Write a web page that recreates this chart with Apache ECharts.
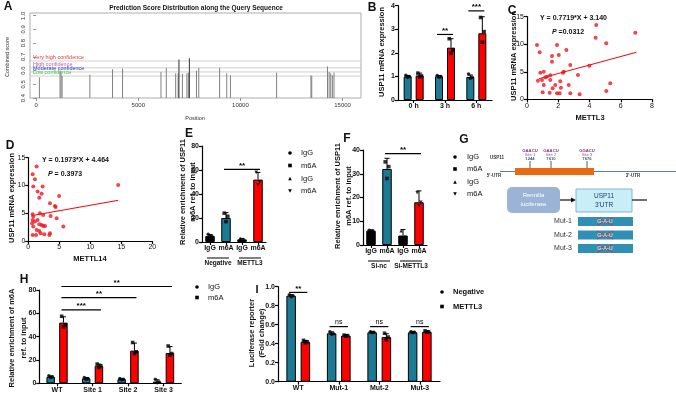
<!DOCTYPE html>
<html>
<head>
<meta charset="utf-8">
<script src="https://cdn.jsdelivr.net/npm/echarts@6/dist/echarts.min.js"></script>
<style>
  html, body { margin: 0; padding: 0; background: #fff; }
  #chart { width: 676px; height: 398px; }
</style>
</head>
<body>
<div id="chart"></div>
<script>
// ---- A: prediction score spikes ----
const aPos = [160, 1170, 1220, 1270, 2630, 3740, 4230, 6110, 6370, 6830, 6950, 6990, 7160, 7380, 7450, 7500, 7850, 7960, 8980, 9330, 9510, 11770, 13450, 13490, 14260, 14340, 14420, 14500, 14580];
const aScore = [0.55, 0.6, 0.58, 0.56, 0.57, 0.61, 0.615, 0.59, 0.62, 0.58, 0.58, 0.68, 0.575, 0.58, 0.585, 0.69, 0.6, 0.62, 0.62, 0.58, 0.565, 0.585, 0.565, 0.56, 0.63, 0.59, 0.58, 0.565, 0.585];
const aThresh = [0.67, 0.62, 0.59, 0.56];
const aThreshNames = ['Very high confidence', 'High confidence', 'Moderate confidence', 'Low confidence'];
const aXTicks = [0, 5000, 10000, 15000];
const aYTicks = [0.4, 0.5, 0.6, 0.7, 0.8, 0.9, 1.0];

// ---- B: USP11 mRNA time course ----
const bCats = ['0 h', '3 h', '6 h'];
const bCtrlMean = [1.0, 1.0, 0.98];
const bCtrlSd = [0.04, 0.04, 0.08];
const bCtrlPts = [[1.05, 1.0, 0.96], [1.04, 0.99, 0.97], [1.1, 0.96, 0.92]];
const bTrtMean = [1.04, 2.22, 2.83];
const bTrtSd = [0.1, 0.38, 0.7];
const bTrtPts = [[1.14, 1.02, 0.98], [2.6, 2.12, 1.98], [3.5, 2.9, 2.45]];
const bSig = [[1, 0, 1, 1, 2.78, '**'], [2, 0, 2, 1, 3.78, '***']];

// ---- C / D: correlations ----
const cX = [0.64, 0.81, 0.85, 0.7, 0.96, 1.07, 1.17, 1.07, 1.0, 1.28, 1.49, 1.45, 1.6, 1.6, 1.49, 1.64, 1.81, 1.92, 2.03, 1.92, 2.09, 2.13, 2.17, 2.3, 2.35, 2.52, 2.67, 2.77, 2.77, 3.26, 3.37, 3.99, 4.43, 4.39, 5.07, 5.07, 5.33, 6.93];
const cY = [9.86, 8.53, 4.84, 3.39, 3.51, 5.02, 4.0, 2.6, 1.27, 4.11, 4.36, 1.21, 7.86, 6.84, 3.51, 2.0, 2.6, 9.86, 8.05, 1.09, 1.09, 3.27, 2.12, 4.84, 5.02, 8.95, 2.6, 6.23, 1.09, 4.42, 0.91, 6.11, 13.5, 11.19, 10.16, 1.51, 2.9, 12.1];
const cFit = { slope: 0.7719, intercept: 3.140, p: '0.0312', from: 0.75, to: 7 };
const dX = [1.34, 0.7, 1.07, 0.8, 2.31, 1.5, 2.15, 1.77, 3.5, 4.3, 4.4, 4.97, 14.5, 0.7, 0.8, 0.7, 0.6, 0.8, 1.07, 1.34, 1.5, 1.77, 1.88, 2.4, 2.15, 2.4, 2.7, 1.77, 1.99, 1.24, 2.58, 3.4, 3.5, 3.6, 4.57, 5.65, 0.7];
const dY = [13.4, 12.0, 11.1, 9.8, 9.8, 8.9, 8.5, 7.8, 6.8, 6.3, 6.1, 8.1, 10.1, 4.8, 4.4, 3.8, 3.2, 2.6, 3.5, 2.0, 3.8, 3.0, 5.0, 4.7, 2.9, 2.7, 2.7, 1.8, 1.4, 1.1, 1.2, 1.1, 1.4, 4.5, 4.1, 2.6, 1.1];
const dFit = { slope: 0.1973, intercept: 4.464, p: '0.3973', from: 1, to: 14.5 };

// ---- E / F: MeRIP ----
const eCats = ['IgG', 'm6A', 'IgG', 'm6A'];
const eGroups = ['Negative', 'METTL3'];
const eMean = [5, 20, 2.2, 52];
const eSd = [1.2, 4.5, 0.8, 6];
const ePts = [[6.5, 5, 4.5], [24, 21.5, 17], [3, 2, 1.5], [58, 50, 47.5]];
const eSig = [[1, 0, 3, 0, 60.5, '**']];
const fCats = ['IgG', 'm6A', 'IgG', 'm6A'];
const fGroups = ['Si-nc', 'Si-METTL3'];
const fMean = [6, 32, 4, 18];
const fSd = [0.3, 4.5, 2.5, 4.8];
const fPts = [[6.2, 6, 5.8], [35, 33, 28], [6, 3.5, 3], [22, 18, 16.5]];
const fSig = [[1, 0, 3, 0, 38.5, '**']];
const efLegend = ['IgG', 'm6A', 'IgG', 'm6A'];

// ---- G: reporter construct ----
const gSites = ['Site 1', 'Site 2', 'Site 3'];
const gSiteMotif = ['GAACU', 'GAACU', 'GGACU'];
const gSitePos = ['1244', '7610', '7676'];
const gMuts = ['Mut-1', 'Mut-2', 'Mut-3'];

// ---- H: site MeRIP ----
const hCats = ['WT', 'Site 1', 'Site 2', 'Site 3'];
const hIgGMean = [5.5, 4.2, 3.5, 1.5];
const hIgGSd = [0.8, 0.7, 0.5, 1.5];
const hIgGPts = [[6.5, 5.5, 5], [5, 4, 3.5], [4, 3.5, 3], [3.5, 1, 0.5]];
const hM6aMean = [52, 15, 28, 26];
const hM6aSd = [5, 1.5, 6.5, 5.5];
const hM6aPts = [[57.5, 50, 48.5], [16.5, 15, 13.5], [35, 27, 25.5], [32, 25.5, 24]];
const hSig = [[0, 1, 1, 1, 63, '***'], [0, 1, 2, 1, 73.5, '**'], [0, 1, 3, 1, 83, '**']];

// ---- I: luciferase ----
const iCats = ['WT', 'Mut-1', 'Mut-2', 'Mut-3'];
const iNegMean = [0.905, 0.51, 0.52, 0.52];
const iNegSd = [0.01, 0.015, 0.01, 0.01];
const iNegPts = [[0.915, 0.905, 0.895], [0.525, 0.505, 0.5], [0.525, 0.52, 0.515], [0.525, 0.52, 0.515]];
const iM3Mean = [0.42, 0.485, 0.47, 0.525];
const iM3Sd = [0.015, 0.01, 0.035, 0.01];
const iM3Pts = [[0.435, 0.42, 0.41], [0.49, 0.485, 0.48], [0.51, 0.47, 0.44], [0.535, 0.525, 0.52]];
const iSig = [[0, 0, 0, 1, 0.94, '**'], [1, 0, 1, 1, 0.58, 'ns'], [2, 0, 2, 1, 0.58, 'ns'], [3, 0, 3, 1, 0.58, 'ns']];

const FONT = '"Liberation Sans", Arial, Helvetica, sans-serif';
const TEAL = '#1D7A94';
const RED = '#FF0000';
const threshColors = ['#E0403A', '#B060C0', '#2E2ED0', '#3DCC3D'];

function axisStyle(bold) {
  return {
    axisLine: { show: true, lineStyle: { color: '#000', width: 1.2 } },
    axisTick: { show: true, length: 3, lineStyle: { color: '#000', width: 1.2 } },
    axisLabel: { fontSize: 7, fontWeight: bold ? 'bold' : 'normal', color: '#111', fontFamily: FONT, margin: 3 },
    splitLine: { show: false },
  };
}

function catAxis(gi, cats, bold) {
  return Object.assign({ type: 'category', gridIndex: gi, data: cats }, axisStyle(bold), {
    axisTick: { show: true, length: 3, alignWithLabel: true, lineStyle: { color: '#000', width: 1.2 } },
    axisLabel: { interval: 0, fontSize: 7, fontWeight: 'bold', color: '#111', fontFamily: FONT, margin: 3 },
  });
}

function valAxis(gi, min, max, interval, bold, fmt) {
  const a = Object.assign({ type: 'value', gridIndex: gi, min, max, interval }, axisStyle(bold));
  if (fmt) a.axisLabel.formatter = fmt;
  return a;
}

function errSeries(gi, means, sds, off) {
  return {
    type: 'custom', xAxisIndex: gi, yAxisIndex: gi, z: 5, silent: true,
    data: means.map((m, i) => [i, m, sds[i]]),
    renderItem(params, api) {
      const top = api.coord([api.value(0), api.value(1) + api.value(2)]);
      const mid = api.coord([api.value(0), api.value(1)]);
      const x = top[0] + off;
      return {
        type: 'group',
        children: [
          { type: 'line', shape: { x1: x, y1: mid[1], x2: x, y2: top[1] }, style: { stroke: '#000', lineWidth: 1 } },
          { type: 'line', shape: { x1: x - 2.5, y1: top[1], x2: x + 2.5, y2: top[1] }, style: { stroke: '#000', lineWidth: 1 } },
        ],
      };
    },
  };
}

function dotSeries(gi, pts, off, symbols) {
  const jit = [-1.8, 1.8, 0];
  const data = [];
  pts.forEach((arr, c) => arr.forEach((v, k) => {
    const sym = Array.isArray(symbols) ? symbols[c] : symbols;
    data.push({
      value: [c, v],
      symbol: sym === 'down' ? 'triangle' : sym,
      symbolRotate: sym === 'down' ? 180 : 0,
      symbolOffset: [off + jit[k], 0],
    });
  }));
  return {
    type: 'scatter', xAxisIndex: gi, yAxisIndex: gi, z: 6, silent: true,
    symbolSize: 3.6, itemStyle: { color: '#000' }, data,
  };
}

function sigSeries(gi, sig, offs) {
  return {
    type: 'custom', xAxisIndex: gi, yAxisIndex: gi, z: 7, silent: true,
    data: sig.map(s => [s[0], s[4]]),
    renderItem(params, api) {
      const s = sig[params.dataIndex];
      const p1 = api.coord([s[0], s[4]]);
      const p2 = api.coord([s[2], s[4]]);
      const x1 = p1[0] + offs[s[1]] - 2;
      const x2 = p2[0] + offs[s[3]] + 2;
      const ns = s[5] === 'ns';
      return {
        type: 'group',
        children: [
          { type: 'line', shape: { x1, y1: p1[1], x2, y2: p1[1] }, style: { stroke: '#000', lineWidth: 1.2 } },
          {
            type: 'text', x: (x1 + x2) / 2, y: p1[1] - (ns ? 1.5 : 0),
            style: { text: s[5], fontSize: ns ? 7 : 8, fontWeight: ns ? 'normal' : 'bold', fontFamily: FONT, fill: '#000', align: 'center', verticalAlign: 'bottom' },
          },
        ],
      };
    },
  };
}

function groupLabelSeries(gi, groups) {
  return {
    type: 'custom', xAxisIndex: gi, yAxisIndex: gi, z: 7, silent: true,
    data: groups.map((g, i) => [i * 2, 0]),
    renderItem(params, api) {
      const i = params.dataIndex;
      const a = api.coord([i * 2, 0]);
      const b = api.coord([i * 2 + 1, 0]);
      const y = a[1] + 16;
      return {
        type: 'group',
        children: [
          { type: 'line', shape: { x1: a[0] - 3, y1: y, x2: b[0] + 3, y2: y }, style: { stroke: '#000', lineWidth: 1 } },
          {
            type: 'text', x: (a[0] + b[0]) / 2, y: y + 5.5,
            style: { text: groups[i], fontSize: 6.5, fontWeight: 'bold', fontFamily: FONT, fill: '#111', align: 'center', verticalAlign: 'middle' },
          },
        ],
      };
    },
  };
}

function pairBars(gi, m1, m2, width, c1, c2) {
  return [
    { type: 'bar', xAxisIndex: gi, yAxisIndex: gi, z: 3, silent: true, data: m1, barWidth: width, barGap: '50%',
      itemStyle: { color: c1, borderColor: '#000', borderWidth: 1 } },
    { type: 'bar', xAxisIndex: gi, yAxisIndex: gi, z: 3, silent: true, data: m2, barWidth: width, barGap: '50%',
      itemStyle: { color: c2, borderColor: '#000', borderWidth: 1 } },
  ];
}

function singleBars(gi, means, colors, width) {
  return {
    type: 'bar', xAxisIndex: gi, yAxisIndex: gi, z: 3, silent: true, barWidth: width,
    data: means.map((m, i) => ({ value: m, itemStyle: { color: colors[i], borderColor: '#000', borderWidth: 1 } })),
  };
}

function fitLine(gi, fit) {
  return {
    type: 'line', xAxisIndex: gi, yAxisIndex: gi, z: 4, silent: true, symbol: 'none',
    lineStyle: { color: RED, width: 1 },
    data: [[fit.from, fit.slope * fit.from + fit.intercept], [fit.to, fit.slope * fit.to + fit.intercept]],
  };
}

function scatterPts(gi, xs, ys) {
  return {
    type: 'scatter', xAxisIndex: gi, yAxisIndex: gi, z: 5, silent: true, symbolSize: 4,
    itemStyle: { color: '#F0141E' }, data: xs.map((x, i) => [x, ys[i]]),
  };
}

// ---- graphic helpers ----
function txt(x, y, text, o) {
  o = o || {};
  return {
    type: 'text', x, y, rotation: o.rot || 0, silent: true, z: 20,
    style: {
      text, fontSize: o.size || 7, fontWeight: o.bold === false ? 'normal' : 'bold', fontFamily: FONT,
      fill: o.color || '#111', align: o.align || 'center', verticalAlign: 'middle',
      lineHeight: o.lh || undefined, rich: o.rich || undefined,
    },
  };
}
function sym(kind, cx, cy) {
  const r = 1.8;
  if (kind === 'circle') return { type: 'circle', shape: { cx, cy, r }, style: { fill: '#000' }, silent: true };
  if (kind === 'rect') return { type: 'rect', shape: { x: cx - r, y: cy - r, width: 2 * r, height: 2 * r }, style: { fill: '#000' }, silent: true };
  if (kind === 'triangle') return { type: 'polygon', shape: { points: [[cx, cy - r], [cx + r, cy + r], [cx - r, cy + r]] }, style: { fill: '#000' }, silent: true };
  return { type: 'polygon', shape: { points: [[cx - r, cy - r], [cx + r, cy - r], [cx, cy + r]] }, style: { fill: '#000' }, silent: true };
}
const ROT = Math.PI / 2;

const graphics = [
  // panel letters
  txt(8, 7, 'A', { size: 12 }), txt(372, 8, 'B', { size: 12 }), txt(512, 11, 'C', { size: 12 }),
  txt(10, 146, 'D', { size: 12 }), txt(189, 134, 'E', { size: 12 }), txt(347, 139, 'F', { size: 12 }),
  txt(464, 140, 'G', { size: 12 }), txt(24, 280, 'H', { size: 12 }), txt(257, 290, 'I', { size: 11 }),
  // A titles
  txt(196, 8, 'Prediction Score Distribution along the Query Sequence', { size: 6.5 }),
  txt(195, 118, 'Position', { size: 5.5, bold: false, color: '#333' }),
  txt(7, 57, 'Combined score', { size: 5.5, bold: false, color: '#333', rot: ROT }),
  // axis titles
  txt(382, 52, 'USP11 mRNA expression', { size: 7.5, rot: ROT }),
  txt(514, 56, 'USP11 mRNA expression', { size: 7.5, rot: ROT }),
  txt(590, 118, 'METTL3', { size: 7.5 }),
  txt(12, 198, 'USP11 mRNA expression', { size: 7.5, rot: ROT }),
  txt(90, 259, 'METTL14', { size: 7.5 }),
  txt(188, 192, 'Relative enrichment of USP11\nm6A ref. to input', { size: 7.5, rot: ROT, lh: 10 }),
  txt(343, 196, 'Relative enrichment of USP11\nm6A ref. to input', { size: 7.5, rot: ROT, lh: 11 }),
  txt(18, 338, 'Relative enrichment of m6A\nref. to input', { size: 7.5, rot: ROT, lh: 12 }),
  txt(257, 333, 'Luciferase reporter\n(Fold change)', { size: 7.5, rot: ROT, lh: 10 }),
  // regression equations
  txt(540, 18.5, `Y = ${cFit.slope.toFixed(4)}*X + ${cFit.intercept.toFixed(3)}`, { align: 'left', size: 7 }),
  txt(552, 32, `{i|P} =${cFit.p}`, { align: 'left', size: 7, rich: { i: { fontStyle: 'italic', fontWeight: 'bold', fontSize: 7, fontFamily: FONT } } }),
  txt(42, 160, `Y = ${dFit.slope.toFixed(4)}*X + ${dFit.intercept.toFixed(3)}`, { align: 'left', size: 7 }),
  txt(48, 174, `{i|P} = ${dFit.p}`, { align: 'left', size: 7, rich: { i: { fontStyle: 'italic', fontWeight: 'bold', fontSize: 7, fontFamily: FONT } } }),
];

// legends E, F, H, I
const efSyms = ['circle', 'rect', 'triangle', 'down'];
const eLegY = [153, 165.5, 178.5, 191];
efLegend.forEach((name, i) => {
  graphics.push(sym(efSyms[i], 290, eLegY[i]));
  graphics.push(txt(301, eLegY[i], name, { align: 'left', bold: false, size: 7.5 }));
});
const fLegY = [157, 169, 182, 194];
efLegend.forEach((name, i) => {
  graphics.push(sym(efSyms[i], 455, fLegY[i]));
  graphics.push(txt(467, fLegY[i], name, { align: 'left', bold: false, size: 7.5 }));
});
['IgG', 'm6A'].forEach((name, i) => {
  graphics.push(sym(i ? 'rect' : 'circle', 197, 287 + i * 10.5));
  graphics.push(txt(208, 287 + i * 10.5, name, { align: 'left', bold: false, size: 7.5 }));
});
['Negative', 'METTL3'].forEach((name, i) => {
  graphics.push(sym(i ? 'rect' : 'circle', 442, 292 + i * 14.5));
  graphics.push(txt(453, 292 + i * 14.5, name, { align: 'left', size: 7.5 }));
});

// G diagram
graphics.push(
  { type: 'line', shape: { x1: 500, y1: 171.5, x2: 676, y2: 171.5 }, style: { stroke: '#5E7FA3', lineWidth: 1.2 }, silent: true },
  { type: 'rect', shape: { x: 515, y: 168, width: 79, height: 7 }, style: { fill: '#EA6A12' }, silent: true },
  txt(497, 158, 'USP11', { size: 4.5, color: '#333' }),
  txt(494, 176, "5'-UTR", { size: 4.5, color: '#333' }),
  txt(633, 176, "3'-UTR", { size: 4.5, color: '#333' }),
  { type: 'rect', shape: { x: 507, y: 187, width: 53, height: 26, r: 5 }, style: { fill: '#9BB4D6' }, silent: true },
  txt(533.5, 200, 'Rennilla\nluciferase', { size: 6, bold: false, color: '#fff', lh: 9 }),
  { type: 'line', shape: { x1: 560, y1: 200, x2: 572, y2: 200 }, style: { stroke: '#111', lineWidth: 1.2 }, silent: true },
  { type: 'polygon', shape: { points: [[576, 200], [571, 197.5], [571, 202.5]] }, style: { fill: '#111' }, silent: true },
  { type: 'rect', shape: { x: 576, y: 189, width: 56, height: 23 }, style: { fill: '#C9EEF8', stroke: '#7CB8D4', lineWidth: 1 }, silent: true },
  txt(604, 200.5, "USP11\n3'UTR", { size: 6.5, bold: false, color: '#1F3F6E', lh: 9 }),
  { type: 'line', shape: { x1: 632, y1: 200, x2: 647, y2: 200 }, style: { stroke: '#111', lineWidth: 1.2 }, silent: true },
);
const gSiteX = [530, 551, 587];
gSites.forEach((s, i) => {
  const x = gSiteX[i];
  graphics.push(
    txt(x, 150.5, gSiteMotif[i], { size: 4.2, color: '#7A2E9A' }),
    txt(x, 154.5, s, { size: 4.2, bold: false, color: '#C0504D' }),
    txt(x, 158.5, gSitePos[i], { size: 4.2, color: '#2E5E8E' }),
    { type: 'line', shape: { x1: x, y1: 161, x2: x, y2: 168 }, style: { stroke: '#333', lineWidth: 0.8 }, silent: true },
  );
});
const gMutY = [217, 230.5, 244];
gMuts.forEach((m, i) => {
  const y = gMutY[i];
  graphics.push(
    { type: 'rect', shape: { x: 578, y, width: 55, height: 9 }, style: { fill: '#2F90B4' }, silent: true },
    txt(605, y + 4.5, 'G-A-U', { size: 5.5, bold: false, color: '#D8EEF6' }),
    { type: 'line', shape: { x1: 597, y1: y + 0.5, x2: 613, y2: y + 8.5 }, style: { stroke: '#E03030', lineWidth: 1 }, silent: true },
    { type: 'line', shape: { x1: 597, y1: y + 8.5, x2: 613, y2: y + 0.5 }, style: { stroke: '#E03030', lineWidth: 1 }, silent: true },
    txt(572, y + 4.5, m, { size: 7, bold: false, color: '#333', align: 'right' }),
  );
});

const chart = echarts.init(document.getElementById('chart'), null, { renderer: 'canvas' });

const aAxisLabel = { fontSize: 6, color: '#333', fontFamily: FONT, margin: 4 };
const option = {
  backgroundColor: '#ffffff',
  animation: false,
  grid: [
    { left: 30, top: 13, width: 331, height: 85, show: true, borderColor: '#999', borderWidth: 0.8, outerBoundsMode: 'none' },
    { left: 398, top: 5.7, width: 94, height: 94.3, outerBoundsMode: 'none' },
    { left: 527, top: 16.7, width: 125, height: 82.6, outerBoundsMode: 'none' },
    { left: 28.3, top: 157.7, width: 124, height: 83.3, outerBoundsMode: 'none' },
    { left: 202, top: 146, width: 64, height: 96, outerBoundsMode: 'none' },
    { left: 363, top: 150, width: 64, height: 95, outerBoundsMode: 'none' },
    { left: 39.3, top: 290, width: 142, height: 93.3, outerBoundsMode: 'none' },
    { left: 278, top: 286.7, width: 162, height: 95, outerBoundsMode: 'none' },
  ],
  xAxis: [
    {
      type: 'value', gridIndex: 0, min: -300, max: 15900,
      axisLine: { show: false }, splitLine: { show: false },
      axisTick: { show: true, length: 3, customValues: aXTicks, lineStyle: { color: '#777', width: 0.8 } },
      axisLabel: Object.assign({ customValues: aXTicks, formatter: v => String(v) }, aAxisLabel),
    },
    catAxis(1, bCats, true),
    valAxis(2, 0, 8, 2, false),
    valAxis(3, 0, 20, 5, false),
    catAxis(4, eCats, true),
    catAxis(5, fCats, true),
    catAxis(6, hCats, true),
    catAxis(7, iCats, true),
  ],
  yAxis: [
    {
      type: 'value', gridIndex: 0, min: 0.4, max: 1.02,
      axisLine: { show: false }, splitLine: { show: false },
      axisTick: { show: true, length: 3, customValues: aYTicks, lineStyle: { color: '#777', width: 0.8 } },
      axisLabel: Object.assign({ customValues: aYTicks, rotate: 90, formatter: v => v.toFixed(1) }, aAxisLabel),
    },
    valAxis(1, 0, 4, 1, true),
    valAxis(2, 0, 15, 5, false),
    valAxis(3, 0, 15, 5, false),
    valAxis(4, 0, 80, 20, true),
    valAxis(5, 0, 40, 10, true),
    valAxis(6, 0, 80, 20, true),
    valAxis(7, 0, 1, 0.2, true, v => v.toFixed(1)),
  ],
  series: [
    // A spikes
    {
      type: 'custom', xAxisIndex: 0, yAxisIndex: 0, z: 4, silent: true,
      data: aPos.map((p, i) => [p, aScore[i]]),
      renderItem(params, api) {
        const top = api.coord([api.value(0), api.value(1)]);
        const base = api.coord([api.value(0), 0.4]);
        return {
          type: 'line',
          shape: { x1: top[0], y1: base[1], x2: top[0], y2: top[1] },
          style: { stroke: api.value(1) > 0.65 ? '#333' : '#808080', lineWidth: 1 },
        };
      },
    },
    // A thresholds
    {
      type: 'custom', xAxisIndex: 0, yAxisIndex: 0, z: 3, silent: true,
      data: aThresh.map(v => [0, v]),
      renderItem(params, api) {
        const cs = params.coordSys;
        const p = api.coord([0, api.value(1)]);
        const i = params.dataIndex;
        return {
          type: 'group',
          children: [
            { type: 'line', shape: { x1: cs.x, y1: p[1], x2: cs.x + cs.width, y2: p[1] }, style: { stroke: '#c4c4c4', lineWidth: 0.8 } },
            { type: 'text', x: cs.x + 3, y: p[1] - 0.8, style: { text: aThreshNames[i], fontSize: 5.5, fontFamily: FONT, fill: threshColors[i], align: 'left', verticalAlign: 'bottom' } },
          ],
        };
      },
    },
    // B
    ...pairBars(1, bCtrlMean, bTrtMean, 8, TEAL, RED),
    errSeries(1, bCtrlMean, bCtrlSd, -6),
    errSeries(1, bTrtMean, bTrtSd, 6),
    dotSeries(1, bCtrlPts, -6, 'circle'),
    dotSeries(1, bTrtPts, 6, 'rect'),
    sigSeries(1, bSig, [-6, 6]),
    // C, D
    fitLine(2, cFit), scatterPts(2, cX, cY),
    fitLine(3, dFit), scatterPts(3, dX, dY),
    // E
    singleBars(4, eMean, ['#000', TEAL, '#000', RED], 9.5),
    errSeries(4, eMean, eSd, 0),
    dotSeries(4, ePts, 0, efSyms),
    sigSeries(4, eSig, [0]),
    groupLabelSeries(4, eGroups),
    // F
    singleBars(5, fMean, ['#000', TEAL, '#000', RED], 9.5),
    errSeries(5, fMean, fSd, 0),
    dotSeries(5, fPts, 0, efSyms),
    sigSeries(5, fSig, [0]),
    groupLabelSeries(5, fGroups),
    // H
    ...pairBars(6, hIgGMean, hM6aMean, 8.5, TEAL, RED),
    errSeries(6, hIgGMean, hIgGSd, -6.4),
    errSeries(6, hM6aMean, hM6aSd, 6.4),
    dotSeries(6, hIgGPts, -6.4, 'circle'),
    dotSeries(6, hM6aPts, 6.4, 'rect'),
    sigSeries(6, hSig, [-6.4, 6.4]),
    // I
    ...pairBars(7, iNegMean, iM3Mean, 9.5, TEAL, RED),
    errSeries(7, iNegMean, iNegSd, -7.1),
    errSeries(7, iM3Mean, iM3Sd, 7.1),
    dotSeries(7, iNegPts, -7.1, 'circle'),
    dotSeries(7, iM3Pts, 7.1, 'rect'),
    sigSeries(7, iSig, [-7.1, 7.1]),
  ],
  graphic: graphics,
};

chart.setOption(option);
</script>
</body>
</html>
